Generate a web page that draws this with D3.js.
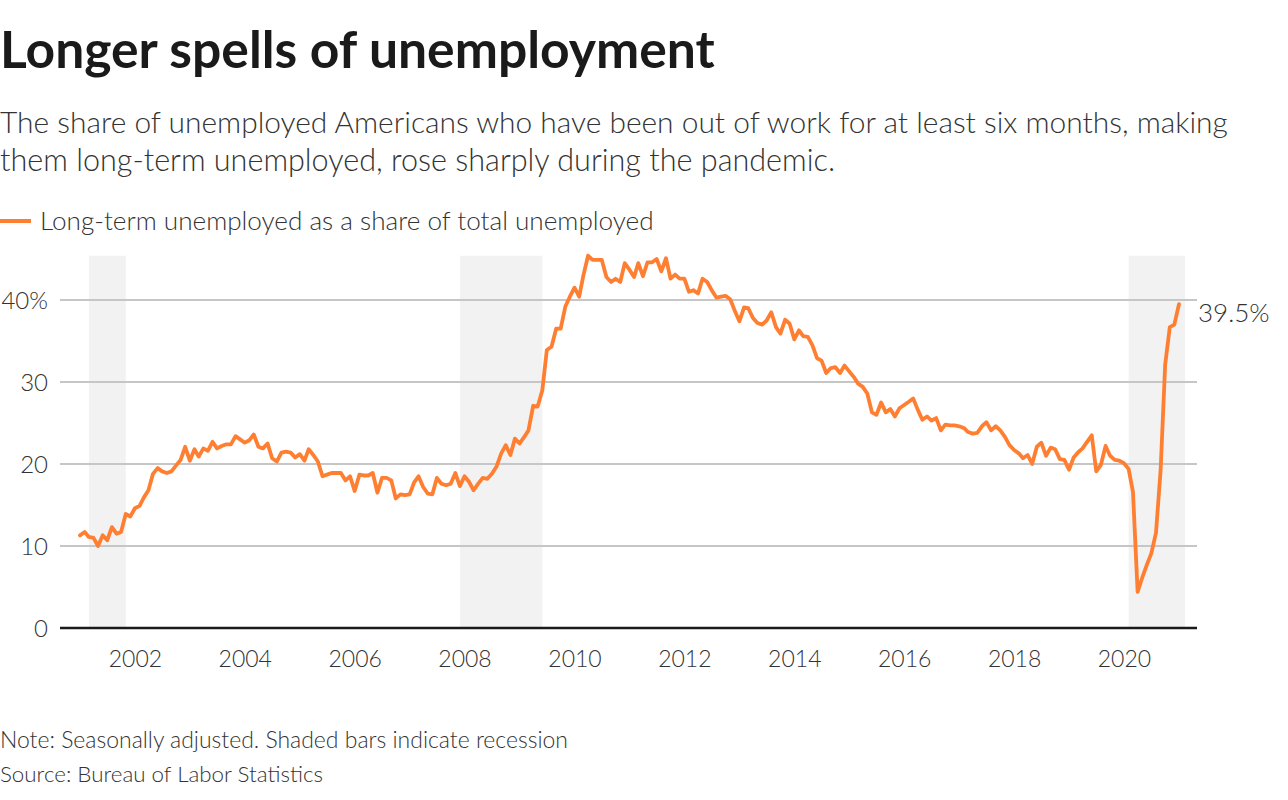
<!DOCTYPE html>
<html>
<head>
<meta charset="utf-8">
<script src="https://cdn.jsdelivr.net/npm/d3@7"></script>
<style>
  html, body { margin: 0; padding: 0; background: #fff; }
  svg { display: block; }
  text { font-family: "Lato", "Source Sans Pro", sans-serif; }
</style>
</head>
<body>
<svg id="chart" width="1288" height="800"></svg>
<script>
// ---- Data (monthly, Jan 2001 – Jan 2021) ----
const startMonth = "2001-01";
const values2001 = [11.3, 11.7, 11.1, 11.0, 10.0, 11.3, 10.7, 12.3, 11.5, 11.7, 13.9, 13.6];
const values2002 = [14.6, 14.9, 15.9, 16.8, 18.8, 19.5, 19.1, 18.9, 19.1, 19.8, 20.5, 22.1];
const values2003 = [20.4, 21.8, 20.9, 21.9, 21.6, 22.7, 21.9, 22.2, 22.4, 22.4, 23.4, 23.0];
const values2004 = [22.6, 22.9, 23.6, 22.1, 21.9, 22.5, 20.7, 20.3, 21.4, 21.5, 21.4, 20.8];
const values2005 = [21.2, 20.4, 21.8, 21.1, 20.3, 18.5, 18.7, 18.9, 18.9, 18.9, 18.0, 18.5];
const values2006 = [16.7, 18.7, 18.6, 18.6, 18.9, 16.5, 18.3, 18.3, 18.0, 15.8, 16.3, 16.2];
const values2007 = [16.3, 17.8, 18.5, 17.2, 16.4, 16.3, 18.3, 17.6, 17.4, 17.6, 18.9, 17.3];
const values2008 = [18.5, 17.8, 16.8, 17.6, 18.3, 18.2, 18.8, 19.7, 21.3, 22.3, 21.1, 23.1];
const values2009 = [22.5, 23.3, 24.1, 27.1, 27.0, 29.0, 33.9, 34.3, 36.5, 36.5, 39.2, 40.4];
const values2010 = [41.5, 40.4, 43.0, 45.4, 44.9, 44.9, 44.9, 42.8, 42.2, 42.6, 42.2, 44.5];
const values2011 = [43.7, 42.8, 44.5, 42.9, 44.6, 44.6, 45.0, 43.5, 45.1, 42.6, 43.1, 42.6];
const values2012 = [42.6, 41.0, 41.2, 40.8, 42.6, 42.2, 41.2, 40.3, 40.4, 40.5, 40.1, 38.7];
const values2013 = [37.4, 39.1, 39.0, 37.8, 37.2, 37.0, 37.5, 38.5, 36.7, 35.9, 37.6, 37.1];
const values2014 = [35.2, 36.3, 35.6, 35.5, 34.5, 32.9, 32.6, 31.1, 31.7, 31.8, 31.1, 32.0];
const values2015 = [31.3, 30.6, 29.8, 29.4, 28.6, 26.3, 26.0, 27.5, 26.3, 26.7, 25.8, 26.8];
const values2016 = [27.2, 27.6, 28.0, 26.6, 25.4, 25.8, 25.3, 25.6, 24.1, 24.8, 24.7, 24.7];
const values2017 = [24.6, 24.4, 23.9, 23.7, 23.8, 24.6, 25.1, 24.1, 24.6, 24.1, 23.3, 22.3];
const values2018 = [21.7, 21.3, 20.7, 21.1, 20.0, 22.1, 22.6, 21.0, 22.0, 21.8, 20.6, 20.5];
const values2019 = [19.3, 20.8, 21.4, 21.9, 22.7, 23.5, 19.1, 19.9, 22.2, 21.0, 20.5, 20.4];
const values2020 = [20.1, 19.4, 16.6, 4.4, 6.1, 7.7, 9.1, 11.6, 19.3, 32.1, 36.7, 37.0];
const values2021 = [39.5];

const recessions = [
  ["2001-03-01", "2001-11-01"],
  ["2007-12-01", "2009-06-01"],
  ["2020-02-01", "2021-02-10"]
];
const yTicks = [0, 10, 20, 30, 40];
const yTickLabels = ["0", "10", "20", "30", "40%"];
const xTickYears = [2002, 2004, 2006, 2008, 2010, 2012, 2014, 2016, 2018, 2020];

const titleText = "Longer spells of unemployment";
const subtitleLines = [
  "The share of unemployed Americans who have been out of work for at least six months, making",
  "them long-term unemployed, rose sharply during the pandemic."
];
const legendLabel = "Long-term unemployed as a share of total unemployed";
const noteText = "Note: Seasonally adjusted. Shaded bars indicate recession";
const sourceText = "Source: Bureau of Labor Statistics";

// ---- Build series ----
const allValues = [].concat(values2001, values2002, values2003, values2004, values2005,
  values2006, values2007, values2008, values2009, values2010, values2011, values2012,
  values2013, values2014, values2015, values2016, values2017, values2018, values2019,
  values2020, values2021);
const parseMonth = d3.timeParse("%Y-%m");
const t0 = parseMonth(startMonth);
const series = allValues.map((v, i) => ({ date: d3.timeMonth.offset(t0, i), value: v }));
const parseDay = d3.timeParse("%Y-%m-%d");

// ---- Layout ----
const svg = d3.select("#chart");
const ORANGE = "#ff7f32";
const plotLeft = 60, plotRight = 1197;

const x = d3.scaleTime()
  .domain([new Date(2001, 0, 1), new Date(2021, 0, 1)])
  .range([80, 1179]);
const y = d3.scaleLinear().domain([0, 40]).range([628, 300]);

function fit(sel, w) {
  const cur = sel.node().getComputedTextLength();
  const fs = parseFloat(sel.attr("font-size"));
  sel.attr("font-size", (fs * w / cur).toFixed(2));
  return sel;
}

// Title & subtitle
fit(svg.append("text").attr("x", 0).attr("y", 68)
  .attr("font-size", 46).attr("font-weight", 700).attr("fill", "#1a1a1a")
  .text(titleText), 715);

subtitleLines.forEach((line, i) => {
  const t = svg.append("text").attr("x", 0).attr("y", 133 + i * 38)
    .attr("font-size", 28).attr("font-weight", 300).attr("fill", "#333")
    .text(line);
  fit(t, i === 0 ? 1228 : 835);
});

// Legend
svg.append("line").attr("x1", 0).attr("x2", 31).attr("y1", 221).attr("y2", 221)
  .attr("stroke", ORANGE).attr("stroke-width", 4);
fit(svg.append("text").attr("x", 40).attr("y", 229.5)
  .attr("font-size", 24).attr("font-weight", 300).attr("fill", "#333")
  .text(legendLabel), 614);

// Recession shading
const shadeTop = y(d3.max(allValues));
svg.append("g").selectAll("rect").data(recessions).join("rect")
  .attr("x", d => x(parseDay(d[0])))
  .attr("width", d => x(parseDay(d[1])) - x(parseDay(d[0])))
  .attr("y", shadeTop)
  .attr("height", y(0) - shadeTop)
  .attr("fill", "#f2f2f2");

// Gridlines
const grid = svg.append("g");
grid.selectAll("line").data(yTicks.filter(d => d > 0)).join("line")
  .attr("x1", plotLeft).attr("x2", plotRight)
  .attr("y1", d => y(d)).attr("y2", d => y(d))
  .attr("stroke", "#c6c6c6").attr("stroke-width", 2);

// Y labels
svg.append("g").selectAll("text").data(yTicks).join("text")
  .attr("x", 48).attr("y", d => y(d)).attr("dy", "0.36em")
  .attr("text-anchor", "end").attr("font-size", 24).attr("font-weight", 300)
  .attr("fill", "#333")
  .text((d, i) => yTickLabels[i]);

// X axis
const xAxis = d3.axisBottom(x)
  .tickValues(xTickYears.map(yr => new Date(yr, 0, 1)))
  .tickFormat(d3.timeFormat("%Y"))
  .tickSize(0).tickPadding(0);
const gx = svg.append("g").attr("transform", `translate(0,${y(0)})`).call(xAxis);
gx.select(".domain").remove();
gx.selectAll("text")
  .attr("y", 39).attr("dy", 0)
  .attr("font-family", "Lato, sans-serif")
  .attr("font-size", 23).attr("font-weight", 300).attr("fill", "#333");

svg.append("line").attr("x1", plotLeft).attr("x2", plotRight)
  .attr("y1", y(0)).attr("y2", y(0))
  .attr("stroke", "#1a1a1a").attr("stroke-width", 2.5);

// Line
const line = d3.line().x(d => x(d.date)).y(d => y(d.value)).curve(d3.curveLinear);
svg.append("path").datum(series)
  .attr("d", line).attr("fill", "none")
  .attr("stroke", ORANGE).attr("stroke-width", 3.8)
  .attr("stroke-linejoin", "round").attr("stroke-linecap", "round");

// End label
const last = series[series.length - 1];
svg.append("text").attr("x", plotRight + 1).attr("y", y(last.value) + 18)
  .attr("font-size", 26).attr("font-weight", 300).attr("fill", "#333")
  .text(d3.format(".1f")(last.value) + "%");

// Footer
fit(svg.append("text").attr("x", 0).attr("y", 748)
  .attr("font-size", 21).attr("font-weight", 300).attr("fill", "#333")
  .text(noteText), 568);
fit(svg.append("text").attr("x", 0).attr("y", 782)
  .attr("font-size", 21).attr("font-weight", 300).attr("fill", "#333")
  .text(sourceText), 323);
</script>
</body>
</html>
